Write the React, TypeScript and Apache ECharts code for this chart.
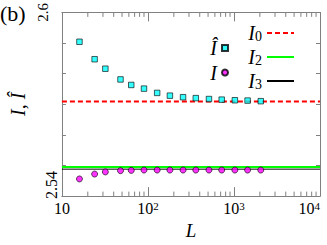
import React, { useEffect, useRef } from "react";
import * as echarts from "echarts";

// ---- data ----
const L = [16, 24, 32, 48, 64, 90, 128, 180, 256, 360, 512, 720, 1024, 1440, 2048];
const Ihat = [2.5904, 2.5847, 2.5816, 2.5781, 2.5763, 2.5751, 2.5737, 2.5728, 2.5723, 2.572, 2.5717, 2.5715, 2.5713, 2.5712, 2.571];
const Ival = [2.5456, 2.5472, 2.5479, 2.5483, 2.5484, 2.5485, 2.5485, 2.5485, 2.5485, 2.5485, 2.5485, 2.5485, 2.5485, 2.5485, 2.5485];
const I0 = 2.5709;
const I2 = 2.5495;
const I3 = 2.5488;
const xRange = [10, 10000];
const yRange = [2.54, 2.6];
const yStep = 0.01;
const yTickLabels = ["2.54", "2.6"];
const decades = [10, 100, 1000];
const multipliers = [2, 3, 4, 5, 6, 7, 8, 9];
const minorTicksX = decades.flatMap((d) => multipliers.map((m) => d * m));

const FONT = "Liberation Serif";
const AXIS_COLOR = "#808080";

export default function App() {
  const ref = useRef<HTMLDivElement>(null);
  useEffect(() => {
    if (!ref.current) return;
    const chart = echarts.init(ref.current, undefined, { renderer: "svg" });

    const xLabelFormatter = (v: number) => {
      const e = Math.round(Math.log10(v));
      return e === 1 ? "{b|10}" : `{b|10}{s|${e}}`;
    };
    const yLabelFormatter = (v: number) => {
      if (Math.abs(v - parseFloat(yTickLabels[0])) < 1e-6) return `{a|${yTickLabels[0]}}`;
      if (Math.abs(v - parseFloat(yTickLabels[1])) < 1e-6) return `{c|${yTickLabels[1]}}`;
      return "";
    };

    const baseX = {
      type: "log" as const,
      logBase: 10,
      min: xRange[0],
      max: xRange[1],
      axisLine: { lineStyle: { color: AXIS_COLOR, width: 1 } },
      axisTick: { inside: true, length: 9, lineStyle: { color: AXIS_COLOR } },
      splitLine: { show: false },
      minorTick: { show: false },
    };
    const baseY = {
      type: "value" as const,
      min: yRange[0],
      max: yRange[1],
      interval: yStep,
      axisLine: { show: true, lineStyle: { color: AXIS_COLOR, width: 1 } },
      axisTick: { show: true, inside: true, length: 4, lineStyle: { color: AXIS_COLOR } },
      splitLine: { show: false },
    };

    chart.setOption({
      animation: false,
      textStyle: { fontFamily: FONT },
      grid: { left: 51, right: 7, top: 12, bottom: 43, containLabel: false },
      graphic: [
        {
          type: "text",
          left: 0,
          top: 2,
          style: { text: "(b)", fontSize: 22, fontFamily: FONT, fill: "#000" },
        },
      ],
      xAxis: [
        {
          ...baseX,
          position: "bottom",
          name: "L",
          nameLocation: "middle",
          nameGap: 24,
          nameTextStyle: { fontFamily: FONT, fontStyle: "italic", fontSize: 19, color: "#000" },
          axisLabel: {
            formatter: xLabelFormatter,
            margin: 4,
            alignMaxLabel: "right",
            color: "#000",
            fontFamily: FONT,
            fontSize: 16,
            rich: {
              b: { fontFamily: FONT, fontSize: 16, color: "#000" },
              s: { fontFamily: FONT, fontSize: 11, color: "#000", padding: [0, 0, 5, 0] },
            },
          },
        },
        { ...baseX, position: "top", axisLabel: { show: false } },
      ],
      yAxis: [
        {
          ...baseY,
          position: "left",
          name: "I, Î",
          nameLocation: "middle",
          nameRotate: 90,
          nameGap: 6,
          nameTextStyle: { fontFamily: FONT, fontStyle: "italic", fontSize: 20, color: "#000" },
          axisLabel: {
            rotate: 90,
            margin: 2,
            fontFamily: FONT,
            fontSize: 16,
            color: "#000",
            formatter: yLabelFormatter,
            rich: {
              a: { fontFamily: FONT, fontSize: 16, color: "#000", padding: [0, 0, 0, 22] },
              c: { fontFamily: FONT, fontSize: 15, color: "#000", padding: [0, 0, 9, 0] },
            },
          },
        },
        { ...baseY, position: "right", axisLabel: { show: false } },
      ],
      legend: [
        {
          data: ["Î", "I"],
          orient: "vertical",
          right: 98,
          top: 38,
          align: "right",
          padding: 0,
          itemWidth: 6,
          itemHeight: 6,
          itemGap: 4.5,
          textStyle: { fontFamily: FONT, fontStyle: "italic", fontSize: 20, lineHeight: 20, color: "#000" },
        },
        {
          data: ["I0", "I2", "I3"],
          orient: "vertical",
          right: 32,
          top: 23,
          align: "right",
          padding: 0,
          itemWidth: 27,
          itemHeight: 14,
          itemGap: 4,
          itemStyle: { opacity: 0 },
          formatter: (n: string) => `{i|I}{s|${n.slice(1)}}`,
          textStyle: {
            lineHeight: 20,
            rich: {
              i: { fontFamily: FONT, fontStyle: "italic", fontSize: 20, color: "#000", lineHeight: 20 },
              s: { fontFamily: FONT, fontSize: 14, color: "#000", padding: [6, 0, 0, 0] },
            },
          },
        },
      ],
      series: [
        {
          type: "custom",
          name: "minorTicks",
          silent: true,
          data: minorTicksX.map((v) => [v, yRange[0]]),
          encode: { x: 0, y: 1 },
          renderItem: (_p: any, api: any) => {
            const x = api.value(0);
            const b = api.coord([x, yRange[0]]);
            const t = api.coord([x, yRange[1]]);
            const st = { stroke: AXIS_COLOR, lineWidth: 1 };
            return {
              type: "group",
              children: [
                { type: "line", shape: { x1: b[0], y1: b[1], x2: b[0], y2: b[1] - 4.5 }, style: st },
                { type: "line", shape: { x1: t[0], y1: t[1], x2: t[0], y2: t[1] + 4.5 }, style: st },
              ],
            };
          },
          z: 1,
        },
        {
          name: "I0",
          type: "line",
          symbol: "none",
          data: [[xRange[0], I0], [xRange[1], I0]],
          lineStyle: { color: "#ff0000", width: 2, type: [5, 3], opacity: 1 },
          itemStyle: { color: "#ff0000" },
          emphasis: { disabled: true },
          z: 2,
        },
        {
          name: "I2",
          type: "line",
          symbol: "none",
          data: [[xRange[0], I2], [xRange[1], I2]],
          lineStyle: { color: "#00ff00", width: 2 },
          itemStyle: { color: "#00ff00" },
          z: 2,
        },
        {
          name: "I3",
          type: "line",
          symbol: "none",
          data: [[xRange[0], I3], [xRange[1], I3]],
          lineStyle: { color: "#000000", width: 1 },
          itemStyle: { color: "#000000" },
          z: 2,
        },
        {
          name: "Î",
          type: "scatter",
          symbol: "rect",
          symbolSize: 5.5,
          data: L.map((l, i) => [l, Ihat[i]]),
          itemStyle: { color: "#00ffff", borderColor: "#000", borderWidth: 0.8 },
          z: 3,
        },
        {
          name: "I",
          type: "scatter",
          symbol: "circle",
          symbolSize: 6,
          data: L.map((l, i) => [l, Ival[i]]),
          itemStyle: { color: "#ff00ff", borderColor: "#000", borderWidth: 0.8 },
          z: 3,
        },
      ],
    });
    return () => chart.dispose();
  }, []);
  return (
    <div
      ref={ref}
      style={{ position: "fixed", left: 0, top: 0, width: 327, height: 245, background: "#fff" }}
    />
  );
}
